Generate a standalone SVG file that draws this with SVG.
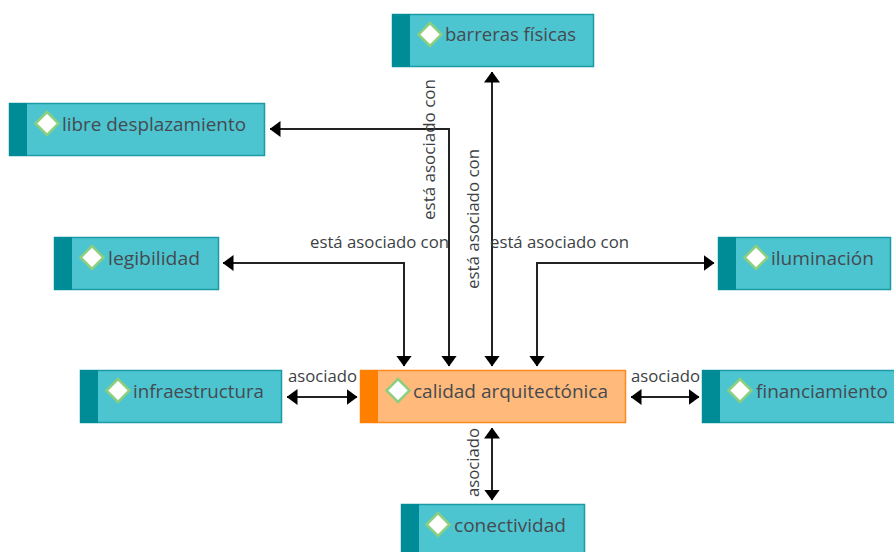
<svg xmlns="http://www.w3.org/2000/svg" width="894" height="552" viewBox="0 0 894 552">
<style>
.b{fill:#4dc5d0;stroke:#1a9ba6;stroke-width:1.5}
.d{fill:#008c97}
.o{fill:#ffb97a;stroke:#ff8a1c;stroke-width:1.5}
.od{fill:#ff7f00}
.g{fill:#fff;stroke:#8ccf7e;stroke-width:2.500}
.t{font-family:"Open Sans","Noto Sans",sans-serif;font-size:19px;fill:#454a50;font-weight:500}
.l{font-family:"Open Sans","Noto Sans",sans-serif;font-size:16.5px;fill:#3c3f44}
.c{fill:none;stroke:#222;stroke-width:2}
</style>
<defs>
<marker id="a" viewBox="0 0 11 16" refX="10.500" refY="8" markerWidth="11" markerHeight="16" markerUnits="userSpaceOnUse" orient="auto-start-reverse"><path d="M0 0L11 8L0 16Z" fill="#000"/></marker>
</defs>
<g id="connectors">
<path class="c" marker-start="url(#a)" marker-end="url(#a)" d="M404 366V263H223"/>
<path class="c" marker-start="url(#a)" marker-end="url(#a)" d="M449 366V129H270"/>
<path class="c" marker-start="url(#a)" marker-end="url(#a)" d="M492 366V72"/>
<path class="c" marker-start="url(#a)" marker-end="url(#a)" d="M537 366V263H714"/>
<path class="c" marker-start="url(#a)" marker-end="url(#a)" d="M287 397H357"/>
<path class="c" marker-start="url(#a)" marker-end="url(#a)" d="M631 397H699"/>
<path class="c" marker-start="url(#a)" marker-end="url(#a)" d="M492 428V500"/>
<text class="l" x="310" y="248" textLength="139" lengthAdjust="spacingAndGlyphs">está asociado con</text>
<text class="l" x="490" y="248" textLength="139" lengthAdjust="spacingAndGlyphs">está asociado con</text>
<text class="l" transform="translate(435 220) rotate(-90)" textLength="141" lengthAdjust="spacingAndGlyphs">está asociado con</text>
<text class="l" transform="translate(479 289) rotate(-90)" textLength="140" lengthAdjust="spacingAndGlyphs">está asociado con</text>
<text class="l" x="288" y="382" textLength="69" lengthAdjust="spacingAndGlyphs">asociado</text>
<text class="l" x="631" y="382" textLength="69" lengthAdjust="spacingAndGlyphs">asociado</text>
<text class="l" transform="translate(479 497) rotate(-90)" textLength="69" lengthAdjust="spacingAndGlyphs">asociado</text>
</g>
<g id="barreras"><rect class="b" x="392.500" y="14.500" width="201" height="52"/><rect class="d" x="392" y="14" width="18" height="53"/><path class="g" d="M430 23L441.500 34.500L430 46L418.500 34.500Z"/><text class="t" x="445" y="41" textLength="131" lengthAdjust="spacingAndGlyphs">barreras físicas</text></g>
<g id="libre"><rect class="b" x="9.500" y="103.500" width="255" height="52"/><rect class="d" x="9" y="103" width="18" height="53"/><path class="g" d="M47 112L58.500 123.500L47 135L35.500 123.500Z"/><text class="t" x="62" y="131" textLength="184" lengthAdjust="spacingAndGlyphs">libre desplazamiento</text></g>
<g id="legibilidad"><rect class="b" x="54.500" y="237.500" width="164" height="52"/><rect class="d" x="54" y="237" width="18" height="53"/><path class="g" d="M92 246L103.500 257.500L92 269L80.500 257.500Z"/><text class="t" x="108" y="265" textLength="92" lengthAdjust="spacingAndGlyphs">legibilidad</text></g>
<g id="iluminacion"><rect class="b" x="718.500" y="237.500" width="172" height="52"/><rect class="d" x="718" y="237" width="18" height="53"/><path class="g" d="M756 246L767.500 257.500L756 269L744.500 257.500Z"/><text class="t" x="771" y="265" textLength="103" lengthAdjust="spacingAndGlyphs">iluminación</text></g>
<g id="infraestructura"><rect class="b" x="80.500" y="370.500" width="201" height="52"/><rect class="d" x="80" y="370" width="18" height="53"/><path class="g" d="M118 379L129.500 390.500L118 402L106.500 390.500Z"/><text class="t" x="133" y="398" textLength="131" lengthAdjust="spacingAndGlyphs">infraestructura</text></g>
<g id="calidad"><rect class="o" x="360.500" y="370.500" width="265" height="52"/><rect class="od" x="360" y="370" width="18" height="53"/><path class="g" d="M398 379L409.500 390.500L398 402L386.500 390.500Z"/><text class="t" x="413" y="398" textLength="195" lengthAdjust="spacingAndGlyphs">calidad arquitectónica</text></g>
<g id="financiamiento"><rect class="b" x="702.500" y="370.500" width="193" height="52"/><rect class="d" x="702" y="370" width="18" height="53"/><path class="g" d="M740 379L751.500 390.500L740 402L728.500 390.500Z"/><text class="t" x="756" y="398" textLength="132" lengthAdjust="spacingAndGlyphs">financiamiento</text></g>
<g id="conectividad"><rect class="b" x="401.500" y="504.500" width="183" height="52"/><rect class="d" x="401" y="504" width="18" height="53"/><path class="g" d="M438 513L449.500 524.500L438 536L426.500 524.500Z"/><text class="t" x="454" y="532" textLength="112" lengthAdjust="spacingAndGlyphs">conectividad</text></g>
</svg>
